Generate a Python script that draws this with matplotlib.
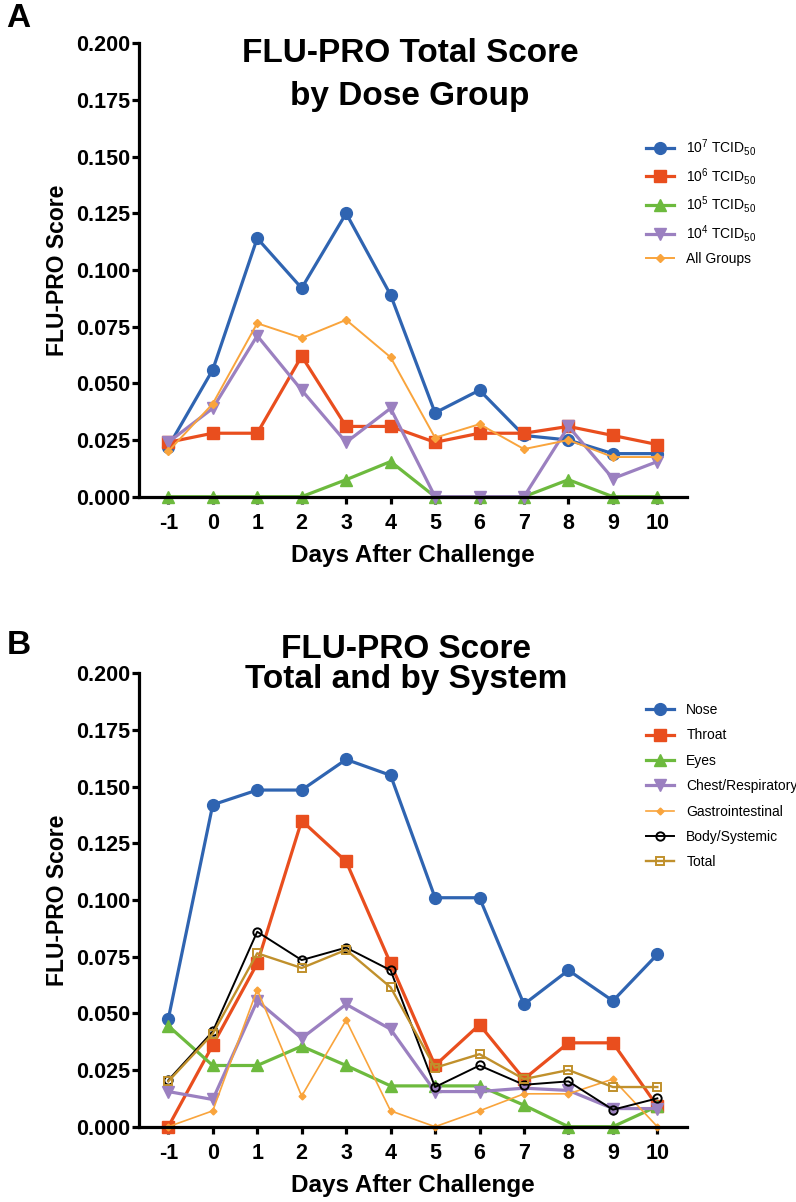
import matplotlib
matplotlib.use("Agg")
import matplotlib.pyplot as plt

plt.rcParams['font.family'] = ['Liberation Sans', 'DejaVu Sans']
plt.rcParams['mathtext.fontset'] = 'custom'
plt.rcParams['mathtext.rm'] = 'Liberation Sans'
plt.rcParams['mathtext.it'] = 'Liberation Sans'
plt.rcParams['mathtext.bf'] = 'Liberation Sans:bold'

# x values (days after challenge)
days = [-1, 0, 1, 2, 3, 4, 5, 6, 7, 8, 9, 10]
day_labels = ['-1', '0', '1', '2', '3', '4', '5', '6', '7', '8', '9', '10']
y_ticks = [0.0, 0.025, 0.05, 0.075, 0.1, 0.125, 0.15, 0.175, 0.2]

# panel A: by dose group
dose_1e7 = [0.022, 0.056, 0.114, 0.092, 0.125, 0.089, 0.037, 0.047, 0.027, 0.025, 0.019, 0.019]
dose_1e6 = [0.024, 0.028, 0.028, 0.062, 0.031, 0.031, 0.024, 0.028, 0.028, 0.031, 0.027, 0.023]
dose_1e5 = [0.0, 0.0, 0.0, 0.0, 0.0075, 0.0155, 0.0, 0.0, 0.0, 0.0075, 0.0, 0.0]
dose_1e4 = [0.024, 0.039, 0.071, 0.047, 0.024, 0.039, 0.0, 0.0, 0.0, 0.031, 0.008, 0.0155]
all_groups = [0.020, 0.041, 0.0765, 0.070, 0.078, 0.0615, 0.026, 0.032, 0.021, 0.025, 0.0175, 0.0175]

# panel B: by system
nose = [0.0475, 0.142, 0.1485, 0.1485, 0.162, 0.155, 0.101, 0.101, 0.054, 0.069, 0.0555, 0.076]
throat = [0.0, 0.036, 0.072, 0.135, 0.117, 0.072, 0.027, 0.045, 0.021, 0.037, 0.037, 0.009]
eyes = [0.0445, 0.027, 0.027, 0.0355, 0.027, 0.018, 0.018, 0.018, 0.0095, 0.0, 0.0, 0.009]
chest = [0.0155, 0.012, 0.0555, 0.039, 0.054, 0.043, 0.0155, 0.0155, 0.017, 0.016, 0.008, 0.008]
gi = [0.0, 0.007, 0.0605, 0.0135, 0.047, 0.007, 0.0, 0.007, 0.0145, 0.0145, 0.021, 0.0]
body = [0.0205, 0.042, 0.086, 0.0735, 0.079, 0.069, 0.0175, 0.027, 0.0185, 0.020, 0.0075, 0.0125]
total = [0.020, 0.041, 0.0765, 0.070, 0.078, 0.0615, 0.026, 0.032, 0.021, 0.025, 0.0175, 0.0175]

BLUE = '#2f64b1'
RED = '#e94e1e'
GREEN = '#6dba3e'
PURPLE = '#9b80c0'
ORANGE = '#f9a43c'
GOLD = '#c0902c'

W, H = 796, 1202
fig = plt.figure(figsize=(W / 100, H / 100), dpi=100)


def ax_rect(top_px, bottom_px, left_px=139.3, right_px=686.7):
    return [left_px / W, 1 - bottom_px / H, (right_px - left_px) / W, (bottom_px - top_px) / H]


def style_axes(ax):
    ax.set_xlim(-1.652, 10.66)
    ax.set_ylim(0, 0.2)
    ax.set_xticks(days)
    ax.set_xticklabels(day_labels)
    ax.set_yticks(y_ticks)
    ax.set_yticklabels(['%.3f' % v for v in y_ticks])
    for s in ['top', 'right']:
        ax.spines[s].set_visible(False)
    for s in ['left', 'bottom']:
        ax.spines[s].set_linewidth(2.3)
    ax.tick_params(direction='out', length=5, width=2.3, labelsize=15.5)
    ax.tick_params(axis='y', pad=1.5)
    ax.tick_params(axis='x', pad=7)
    for lab in ax.get_xticklabels() + ax.get_yticklabels():
        lab.set_fontweight('bold')
    ax.set_xlabel('Days After Challenge', fontsize=17.5, fontweight='bold', labelpad=7)
    ax.set_ylabel('FLU-PRO Score', fontsize=16.5, fontweight='bold', labelpad=5)


# ---- Panel A ----
axA = fig.add_axes(ax_rect(43.3, 496.7))
axA.plot(days, dose_1e7, color=BLUE, lw=2.3, marker='o', ms=8.5, label=r'10$^{7}$ TCID$_{50}$', clip_on=False)
axA.plot(days, dose_1e6, color=RED, lw=2.3, marker='s', ms=8, label=r'10$^{6}$ TCID$_{50}$', clip_on=False)
axA.plot(days, dose_1e5, color=GREEN, lw=2.3, marker='^', ms=8, label=r'10$^{5}$ TCID$_{50}$', clip_on=False)
axA.plot(days, dose_1e4, color=PURPLE, lw=2.3, marker='v', ms=8, label=r'10$^{4}$ TCID$_{50}$', clip_on=False)
axA.plot(days, all_groups, color=ORANGE, lw=1.4, marker='D', ms=4, label='All Groups', clip_on=False)
style_axes(axA)
axA.legend(loc='upper left', bbox_to_anchor=(646 / W, 1 - 137 / H), bbox_transform=fig.transFigure,
           frameon=False, fontsize=10, handlelength=2.0, handletextpad=0.9, labelspacing=0.55,
           borderpad=0, borderaxespad=0)
fig.text(410 / W, 1 - 53.5 / H, 'FLU-PRO Total Score', ha='center', va='center', fontsize=24, fontweight='bold')
fig.text(410 / W, 1 - 97 / H, 'by Dose Group', ha='center', va='center', fontsize=24, fontweight='bold')
fig.text(18 / W, 1 - 18.5 / H, 'A', ha='center', va='center', fontsize=24, fontweight='bold')

# ---- Panel B ----
axB = fig.add_axes(ax_rect(673.3, 1126.7))
axB.plot(days, nose, color=BLUE, lw=2.3, marker='o', ms=8.5, label='Nose', clip_on=False)
axB.plot(days, throat, color=RED, lw=2.3, marker='s', ms=8, label='Throat', clip_on=False)
axB.plot(days, eyes, color=GREEN, lw=2.3, marker='^', ms=8, label='Eyes', clip_on=False)
axB.plot(days, chest, color=PURPLE, lw=2.3, marker='v', ms=8, label='Chest/Respiratory', clip_on=False)
axB.plot(days, gi, color=ORANGE, lw=1.2, marker='D', ms=3.5, label='Gastrointestinal', clip_on=False)
axB.plot(days, body, color='black', lw=1.4, marker='o', ms=6, mfc='none', mew=1.4,
         label='Body/Systemic', clip_on=False)
axB.plot(days, total, color=GOLD, lw=1.7, marker='s', ms=6, mfc='none', mew=1.4, label='Total', clip_on=False)
style_axes(axB)
axB.legend(loc='upper left', bbox_to_anchor=(646 / W, 1 - 703 / H), bbox_transform=fig.transFigure,
           frameon=False, fontsize=10, handlelength=2.0, handletextpad=0.9, labelspacing=0.82,
           borderpad=0, borderaxespad=0)
fig.text(406 / W, 1 - 649 / H, 'FLU-PRO Score', ha='center', va='center', fontsize=24, fontweight='bold')
fig.text(406 / W, 1 - 679 / H, 'Total and by System', ha='center', va='center', fontsize=24, fontweight='bold')
fig.text(19 / W, 1 - 646 / H, 'B', ha='center', va='center', fontsize=24, fontweight='bold')

fig.savefig('out.png', dpi=100)
